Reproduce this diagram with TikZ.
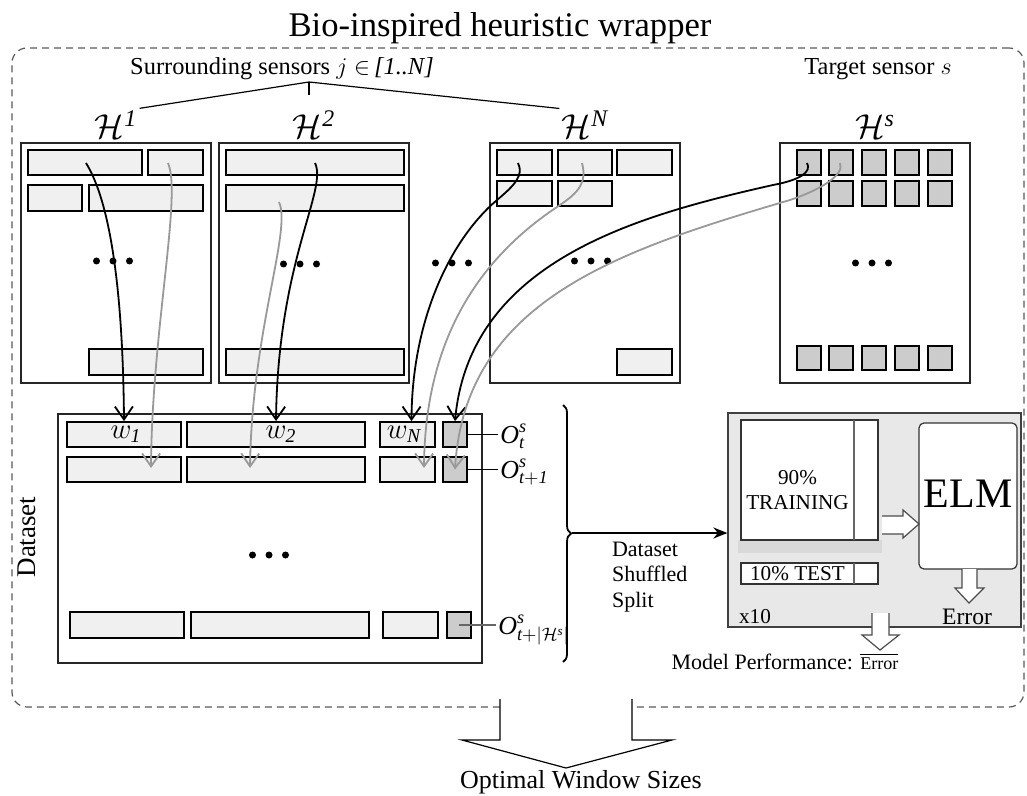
\documentclass[tikz,border=0pt]{standalone}
\usepackage{amsmath}
\usepackage{fontspec}
\setmainfont{Liberation Serif}
\usetikzlibrary{arrows.meta,fit,decorations.pathreplacing,calc}
\newcommand\fsz[2]{\fontsize{#1}{#2}\selectfont}
\newcommand\threedots[2]{\foreach \k in {-1,0,1}{\fill ($(#1,#2)+(\k*16.5,0)$) circle (1.75pt);}}
\begin{document}
\begin{tikzpicture}[x=0.5pt,y=-0.5pt,
  hbox/.style={draw=black!85,line width=1pt,fill=white,inner sep=0pt},
  wcell/.style={draw=black,line width=0.9pt,fill=black!6,inner sep=0pt},
  scell/.style={draw=black,line width=0.9pt,fill=black!20,inner sep=0pt},
  hlab/.style={font=\fsz{17}{20},inner sep=1pt,anchor=base},
  olab/.style={font=\fsz{13}{15},inner sep=1pt,anchor=base west},
  wlab/.style={font=\fsz{14}{16},inner sep=1pt,anchor=base},
  feed/.style={line width=0.9pt,-{Straight Barb[length=6.5pt,width=9pt]}},
  feedg/.style={feed,draw=black!40},
  blockarrow/.style={draw=black!70,line width=0.6pt,fill=white,line join=miter},
  thinbox/.style={draw=black!80,line width=0.6pt,fill=white,inner sep=0pt},
]
\useasboundingbox (0,0) rectangle (1027,796);

% outer wrapper
\node[draw=black!65,line width=0.6pt,dash pattern=on 3.5pt off 2.5pt,
      rounded corners=7.5pt,inner sep=0pt,fit={(12,48) (1024,707)}] (wrapper) {};
\node[font=\fsz{17.3}{20},anchor=base] (title) at (500,37) {Bio-inspired heuristic wrapper};

% sensor headings
\node[font=\fsz{12.2}{14},anchor=base] (surr) at (282,75) {Surrounding sensors $j\in$\,\textit{[1..N]}};
\node[font=\fsz{12.2}{14},anchor=base] (target) at (878,75) {Target sensor $s$};

\node[hlab] (L1) at (116,139) {$\mathcal{H}^{\textit{1}}$};
\node[hlab] (L2) at (314,139) {$\mathcal{H}^{\textit{2}}$};
\node[hlab] (LN) at (585,139) {$\mathcal{H}^{\textit{N}}$};
\node[hlab] (Ls) at (875,139) {$\mathcal{H}^{\textit{s}}$};

\coordinate (junc) at (309,82);
\coordinate (tick) at (309,95);
\draw[line width=0.6pt] (L1.north east) -- (junc) -- (LN.north west);
\draw[line width=0.6pt] (junc) -- (tick);

% history windows of the sensors
\node[hbox,fit={(21,143) (211,383)}] (H1) {};
\node[hbox,fit={(219,143) (409,383)}] (H2) {};
\node[hbox,fit={(490,143) (680,383)}] (HN) {};
\node[hbox,fit={(780,143) (970,383)}] (Hs) {};

\node[wcell,fit={(28,150) (142,175)}] (h1a) {};
\node[wcell,fit={(148,150) (203,175)}] (h1b) {};
\node[wcell,fit={(28,185) (82,211)}] (h1c) {};
\node[wcell,fit={(89,185) (203,211)}] (h1d) {};
\node[wcell,fit={(89,349) (203,375)}] (h1e) {};
\threedots{113}{261}

\node[wcell,fit={(226,150) (404,175)}] (h2a) {};
\node[wcell,fit={(226,185) (404,211)}] (h2b) {};
\node[wcell,fit={(226,349) (404,375)}] (h2c) {};
\threedots{300}{264}

\threedots{452}{263}

\node[wcell,fit={(497,150) (552,175)}] (hNa) {};
\node[wcell,fit={(558,150) (612,175)}] (hNb) {};
\node[wcell,fit={(617,150) (672,175)}] (hNc) {};
\node[wcell,fit={(497,181) (552,206)}] (hNd) {};
\node[wcell,fit={(558,181) (612,206)}] (hNe) {};
\node[wcell,fit={(617,349) (672,375)}] (hNf) {};
\threedots{591}{261}

\foreach \i/\x in {1/797,2/829,3/862,4/895,5/928}{
  \node[scell,fit={(\x,150) (\x+24,175)}] (sa\i) {};
  \node[scell,fit={(\x,181) (\x+24,206)}] (sb\i) {};
  \node[scell,fit={(\x,346) (\x+24,370)}] (sc\i) {};
}
\threedots{872}{263}

% dataset
\node[hbox,fit={(58,414) (482,663)}] (DS) {};
\node[rotate=90,font=\fsz{13.5}{15}] (dslab) at (27,537) {Dataset};

\node[wcell,fit={(67,422) (181,447)}] (w1) {};
\node[wcell,fit={(187,422) (365,447)}] (w2) {};
\node[wcell,fit={(380,422) (435,447)}] (wN) {};
\node[scell,fit={(443,422) (467,447)}] (d1s) {};
\node[wcell,fit={(67,457) (181,482)}] (r2a) {};
\node[wcell,fit={(187,457) (365,482)}] (r2b) {};
\node[wcell,fit={(380,457) (435,482)}] (r2c) {};
\node[scell,fit={(443,457) (467,482)}] (d2s) {};
\node[wcell,fit={(70,612) (184,638)}] (r3a) {};
\node[wcell,fit={(191,612) (369,638)}] (r3b) {};
\node[wcell,fit={(383,612) (438,638)}] (r3c) {};
\node[scell,fit={(447,612) (471,638)}] (d3s) {};
\threedots{269}{555}

\node[wlab] (w1lab) at (126,438) {$w_{\textit{1}}$};
\node[wlab] (w2lab) at (281,438) {$w_{\textit{2}}$};
\node[wlab] (wNlab) at (404,438) {$w_{\textit{N}}$};

\node[olab] (o1) at (498,443) {$\textit{O}^{\textit{s}}_{\textit{t}}$};
\node[olab] (o2) at (498,478) {$\textit{O}^{\textit{s}}_{\textit{t}{+}\textit{1}}$};
\node[olab] (o3) at (496,634) {$\textit{O}^{\textit{s}}_{\textit{t}{+}|\mathcal{H}^{\textit{s}}|}$};
\draw[line width=0.8pt] (d1s.east) -- (o1.west |- d1s.east);
\draw[line width=0.8pt] (d2s.east) -- (o2.west |- d2s.east);
\draw[line width=0.8pt,black!60] (d3s.center) -- (o3.west |- d3s.center);

% feeding curves from the windows to the dataset rows
\coordinate (b1s) at (86,163);
\coordinate (g1s) at (168,163);
\coordinate (b2s) at (315,163);
\coordinate (g2s) at (279,202);
\coordinate (bNs) at (518,163);
\coordinate (gNs) at (582,163);
\coordinate (bss) at (807,163);
\coordinate (gss) at (840,163);
\coordinate (g1e) at (151,468);
\coordinate (g2e) at (250,468);
\coordinate (gNe) at (424,468);
\coordinate (bNe) at ([xshift=2pt]wN.north);

\draw[feed] (b1s) .. controls (112,205) and (123,300) .. (w1.north);
\draw[feedg] (g1s) .. controls (182,195) and (152,330) .. (g1e);
\draw[feed] (b2s) .. controls (328,190) and (278,260) .. (w2.north);
\draw[feedg] (g2s) .. controls (292,230) and (252,330) .. (g2e);
\draw[feed] (bNs) .. controls (524,175) and (515,185) .. (497,200)
               .. controls (450,240) and (412,320) .. (bNe);
\draw[feedg] (gNs) .. controls (588,185) and (575,195) .. (557,207)
               .. controls (470,265) and (425,350) .. (gNe);
\draw[feed] (bss) .. controls (812,172) and (800,180) .. (773,185)
               .. controls (640,215) and (470,260) .. (d1s.north);
\draw[feedg] (gss) .. controls (845,175) and (820,190) .. (790,200)
               .. controls (620,250) and (465,300) .. (d2s.center);

% split into training and test
\draw[decorate,decoration={brace,amplitude=4pt},line width=0.9pt] (563,405) -- (563,662);
\coordinate (btip) at (572,533);

\node[fill=black!9,draw=black!75,line width=0.6pt,inner sep=0pt,fit={(728,413) (1021,627)}] (panel) {};
\draw[line width=1.1pt,-{Stealth[length=7pt,width=5.5pt]}] (btip) -- (panel.west |- btip);
\node[anchor=west,align=left,font=\fsz{11}{12.75}] (dss) at (605,577) {Dataset\\Shuffled\\Split};

\node[fill=black!15,inner sep=0pt,fit={(738,540) (882,553)}] (band) {};
\node[thinbox,fit={(741,420) (878,540)}] (train) {};
\draw[line width=0.6pt,black!60] (854,420) -- (854,540);
\node[align=center,font=\fsz{10.6}{12.5}] (traintxt) at (797.5,490) {90\%\\TRAINING};
\node[thinbox,fit={(741,563) (878,584)}] (test) {};
\draw[line width=0.6pt,black!60] (854,563) -- (854,584);
\node[font=\fsz{10.6}{12.5}] (testtxt) at (797.5,574) {10\% TEST};

\node[thinbox,rounded corners=2.5pt,fit={(919,423) (1017,569)}] (elm) {};
\node[font=\fsz{21}{24}] (elmtxt) at (968,494) {ELM};

\draw[blockarrow] (882,516) -- (903,516) -- (903,510) -- (919,524) -- (903,538) -- (903,534) -- (882,534);
\draw[blockarrow] (962,569) -- (962,588) -- (955,588) -- (969,603) -- (984,588) -- (977,588) -- (977,569);
\node[font=\fsz{11.8}{14}] (err) at (967,617) {Error};
\node[font=\fsz{10.6}{12}] (x10) at (755,617) {x10};

\draw[blockarrow] (872,613) -- (872,635) -- (862,635) -- (880,650) -- (899,635) -- (889,635) -- (889,613);
\node[font=\fsz{11}{13},anchor=base] (perf) at (785,669) {Model Performance: $\overline{\text{\fsz{9}{10}Error}}$};

% result of the wrapper
\draw[draw=black,line width=0.6pt,fill=white,line join=miter]
  (500,699) -- (500,740) -- (462,740) -- (566,768) -- (672,740) -- (632,740) -- (632,699);
\node[font=\fsz{13}{15},anchor=base] (optimal) at (581,788) {Optimal Window Sizes};
\end{tikzpicture}
\end{document}
